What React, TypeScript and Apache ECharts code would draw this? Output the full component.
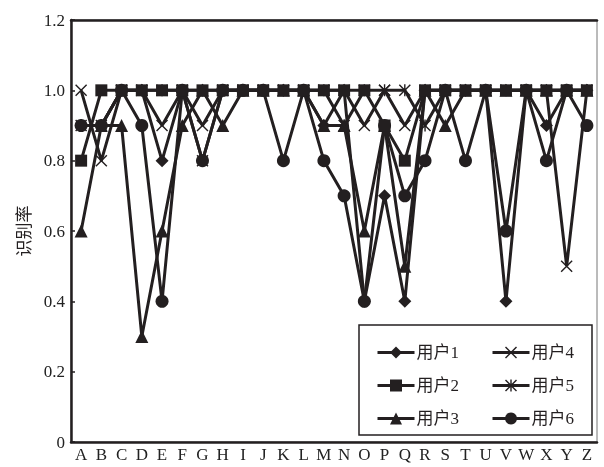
import React, { useEffect, useRef } from "react";
import * as echarts from "echarts";

const categories = ["A","B","C","D","E","F","G","H","I","J","K","L","M","N","O","P","Q","R","S","T","U","V","W","X","Y","Z"];
const seriesNames = ["用户1", "用户2", "用户3", "用户4", "用户5", "用户6"];
const user1 = [0.9,0.9,1,1,0.8,1,1,1,1,1,1,1,0.9,1,0.4,0.7,0.4,1,1,1,1,0.4,1,0.9,1,1];
const user2 = [0.8,1,1,1,1,1,1,1,1,1,1,1,1,1,1,0.9,0.8,1,1,1,1,1,1,1,1,1];
const user3 = [0.6,0.9,0.9,0.3,0.6,0.9,1,0.9,1,1,1,1,0.9,0.9,0.6,0.9,0.5,1,0.9,1,1,1,1,1,1,1];
const user4 = [1,0.8,1,1,0.9,1,0.9,1,1,1,1,1,1,1,0.9,1,0.9,1,1,1,1,1,1,1,0.5,1];
const user5 = [0.9,0.9,1,1,1,1,0.8,1,1,1,1,1,1,0.9,1,1,1,0.9,1,1,1,1,1,1,1,1];
const user6 = [0.9,0.9,1,0.9,0.4,1,0.8,1,1,1,0.8,1,0.8,0.7,0.4,0.9,0.7,0.8,1,0.8,1,0.6,1,0.8,1,0.9];
const yTicks = { min: 0, max: 1.2, interval: 0.2 };

const xPath = "path://M0,1L1,0L12,11L11,12ZM11,0L12,1L1,12L0,11Z";
const starPath = "path://M0,1L1,0L12,11L11,12ZM11,0L12,1L1,12L0,11ZM5.3,0L6.7,0L6.7,12L5.3,12Z";

const INK = "#231f20";
const FONT = "'Liberation Serif', 'Noto Sans CJK SC', serif";

export default function App() {
  const ref = useRef<HTMLDivElement>(null);
  useEffect(() => {
    if (!ref.current) return;
    const chart = echarts.init(ref.current, undefined, { renderer: "svg" });
    const datas = [user1, user2, user3, user4, user5, user6];
    const symbols = ["diamond", "rect", "triangle", xPath, starPath, "circle"];
    const sizes = [13, 12, 13, 12, 12, 13];
    const zs = [3, 9, 4, 5, 6, 7];
    const series = datas.map((d, i) => ({
      name: seriesNames[i],
      type: "line",
      data: d,
      symbol: symbols[i],
      symbolSize: sizes[i],
      showSymbol: true,
      z: zs[i],
      lineStyle: { color: INK, width: 3 },
      itemStyle: { color: INK, borderWidth: 0 },
      emphasis: { disabled: true },
    }));
    const legendCommon = {
      orient: "vertical",
      itemWidth: 37,
      itemHeight: 15,
      itemGap: 16,
      z: 20,
      lineStyle: { width: 3, color: INK },
      textStyle: { fontFamily: FONT, fontSize: 17, color: INK, lineHeight: 17, padding: [0, 0, 0, -3] },
      selectedMode: false,
    };
    chart.setOption({
      animation: false,
      grid: { left: 71, right: 7, top: 20, bottom: 25, show: true, borderColor: "#777", borderWidth: 1 },
      xAxis: [
        {
          type: "category",
          data: categories,
          boundaryGap: true,
          axisLine: { lineStyle: { color: INK, width: 2.5 } },
          axisTick: { show: false },
          axisLabel: { fontFamily: FONT, fontSize: 17, color: "#222", margin: 4, interval: 0 },
        },
        {
          type: "category",
          data: categories,
          position: "top",
          axisLine: { lineStyle: { color: INK, width: 2.5 } },
          axisTick: { show: false },
          axisLabel: { show: false },
        },
      ],
      yAxis: {
        type: "value",
        min: yTicks.min,
        max: yTicks.max,
        interval: yTicks.interval,
        name: "识别率",
        nameLocation: "middle",
        nameGap: 33,
        nameTextStyle: { fontFamily: FONT, fontSize: 17, color: INK },
        axisLine: { show: true, lineStyle: { color: INK, width: 2.5 } },
        axisTick: { show: true, inside: true, length: 4, lineStyle: { color: INK, width: 1.5 } },
        splitLine: { show: false },
        axisLabel: {
          fontFamily: FONT,
          fontSize: 17,
          color: "#222",
          margin: 6,
          formatter: (v: number) => (v === 0 ? "0" : v.toFixed(1)),
        },
      },
      legend: [
        { ...legendCommon, data: seriesNames.slice(0, 3), left: 371, top: 339 },
        { ...legendCommon, data: seriesNames.slice(3, 6), left: 486, top: 339 },
      ],
      graphic: [
        {
          type: "rect",
          shape: { x: 359, y: 325, width: 233, height: 110 },
          style: { fill: "#fff", stroke: INK, lineWidth: 1.5 },
          z: 15,
        },
      ],
      series,
    });
    return () => chart.dispose();
  }, []);
  return <div ref={ref} style={{ width: 604, height: 467, position: "fixed", left: 0, top: 0 }} />;
}
